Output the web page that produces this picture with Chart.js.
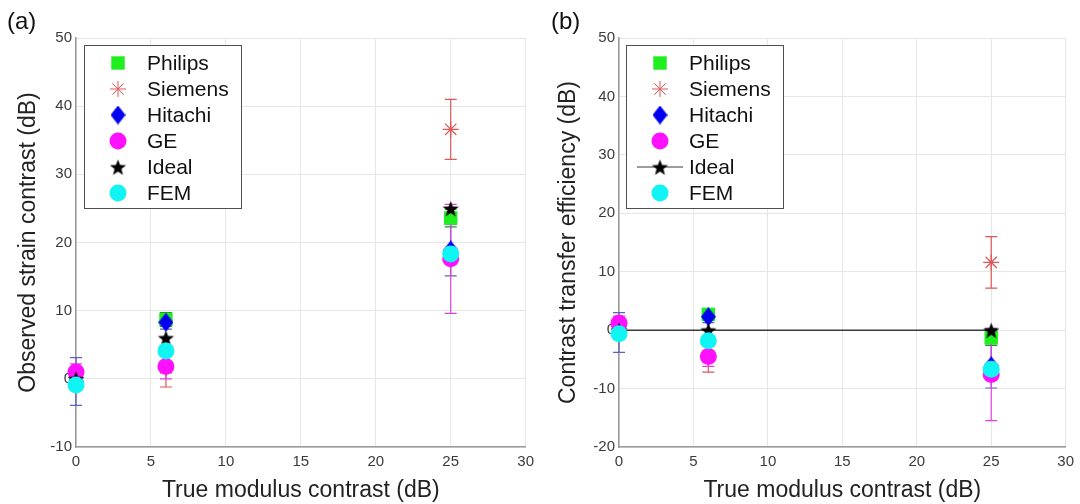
<!DOCTYPE html>
<html>
<head>
<meta charset="utf-8">
<script src="https://cdn.jsdelivr.net/npm/chart.js@4.4.1/dist/chart.umd.min.js"></script>
<style>
    body { margin: 0; background: #fff; width: 1080px; height: 504px; position: relative; overflow: hidden;
           font-family: "Liberation Sans", Arial, sans-serif; }
    .panel { position: absolute; top: 0; width: 540px; height: 504px; }
    .tag { position: absolute; top: 9px; font-size: 24px; line-height: 1; color: #111; }
</style>
</head>
<body>
<div class="panel" style="left:0"><canvas id="chartA" width="540" height="504"></canvas></div>
<div class="panel" style="left:540px"><canvas id="chartB" width="540" height="504"></canvas></div>
<div class="tag" style="left:7px">(a)</div>
<div class="tag" style="left:551px">(b)</div>
<script>
const trueContrast = [0, 6, 25];
const xTicks = [0, 5, 10, 15, 20, 25, 30];
const vendors = ['Philips', 'Siemens', 'Hitachi', 'GE', 'Ideal', 'FEM'];

// (a) observed strain contrast (dB)
const philipsObs = [0.4, 8.7, 23.6];
const siemensObs = [0.2, 1.6, 36.6];
const hitachiObs = [-0.4, 8.3, 18.9];
const geObs = [1.0, 1.8, 17.6];
const idealObs = [0, 6, 25];
const femObs = [-0.9, 4.1, 18.3];
const philipsObsErr = [0.8, 1.0, 1.3];
const siemensObsErr = [1.5, 2.8, 4.4];
const hitachiObsErr = [3.5, 1.0, 3.8];
const geObsErr = [1.2, 1.8, 8.0];
const yTicksA = [-10, 0, 10, 20, 30, 40, 50];

// (b) contrast transfer efficiency (dB)
const philipsCte = [0.4, 2.7, -1.3];
const siemensCte = [0.2, -4.4, 11.6];
const hitachiCte = [-0.4, 2.3, -6.1];
const geCte = [1.2, -4.5, -7.6];
const idealCte = [0, 0, 0];
const femCte = [-0.6, -1.8, -6.7];
const philipsCteErr = [0.8, 1.0, 1.3];
const siemensCteErr = [1.5, 2.8, 4.4];
const hitachiCteErr = [3.4, 1.0, 3.8];
const geCteErr = [1.2, 1.7, 7.9];
const yTicksB = [-20, -10, 0, 10, 20, 30, 40, 50];

const FONT = '"Liberation Sans", Arial, sans-serif';
const colors = { philips: '#1fee1f', siemens: '#e05656', hitachi: '#0000f0', ge: '#ff10ff', ideal: '#000000', fem: '#10f4f4' };

// marcadores propios: rombo alto y estrella de 5 puntas
function makeDiamond(color, w, h) {
    const c = document.createElement('canvas');
    c.width = w; c.height = h;
    const g = c.getContext('2d');
    g.fillStyle = color;
    g.beginPath();
    g.moveTo(w / 2, 0); g.lineTo(w, h / 2); g.lineTo(w / 2, h); g.lineTo(0, h / 2);
    g.closePath(); g.fill();
    return c;
}
function makePentagram(color, r) {
    const s = Math.ceil(r * 2 + 2);
    const c = document.createElement('canvas');
    c.width = s; c.height = s;
    const g = c.getContext('2d');
    g.fillStyle = color;
    g.beginPath();
    for (let i = 0; i < 10; i++) {
        const rad = i % 2 === 0 ? r : r * 0.42;
        const a = -Math.PI / 2 + i * Math.PI / 5;
        const px = s / 2 + rad * Math.cos(a), py = s / 2 + 1 + rad * Math.sin(a);
        i === 0 ? g.moveTo(px, py) : g.lineTo(px, py);
    }
    g.closePath(); g.fill();
    return c;
}
const diamondImg = makeDiamond(colors.hitachi, 15, 19);
const starImg = makePentagram(colors.ideal, 8.5);

const errorBars = {
    id: 'errorBars',
    beforeDatasetsDraw(chart, args, opts) {
        const { ctx, scales: { x, y } } = chart;
        ctx.save();
        opts.sets.forEach(s => {
            ctx.strokeStyle = s.color;
            ctx.lineWidth = 1.2;
            s.values.forEach((v, i) => {
                const px = x.getPixelForValue(trueContrast[i]);
                const top = y.getPixelForValue(v + s.err[i]);
                const bot = y.getPixelForValue(v - s.err[i]);
                ctx.beginPath();
                ctx.moveTo(px, top); ctx.lineTo(px, bot);
                ctx.moveTo(px - 6, top); ctx.lineTo(px + 6, top);
                ctx.moveTo(px - 6, bot); ctx.lineTo(px + 6, bot);
                ctx.stroke();
            });
        });
        ctx.restore();
    }
};

const boxLegend = {
    id: 'boxLegend',
    afterDraw(chart, args, opts) {
        const { ctx, chartArea } = chart;
        const left = chartArea.left + opts.dx, top = chartArea.top + 7, w = 157, h = 163;
        ctx.save();
        ctx.fillStyle = '#fff';
        ctx.fillRect(left, top, w, h);
        ctx.strokeStyle = '#505050';
        ctx.lineWidth = 1;
        ctx.strokeRect(left + 0.5, top + 0.5, w, h);
        chart.data.datasets.forEach((ds, i) => {
            const mx = left + 34, my = top + 18 + i * 26;
            if (ds.showLine) {
                ctx.strokeStyle = ds.borderColor;
                ctx.lineWidth = 1.2;
                ctx.beginPath(); ctx.moveTo(mx - 23, my); ctx.lineTo(mx + 23, my); ctx.stroke();
            }
            ctx.fillStyle = ds.pointBackgroundColor;
            ctx.strokeStyle = ds.pointBorderColor;
            Chart.helpers.drawPoint(ctx, { pointStyle: ds.pointStyle, radius: ds.pointRadius, rotation: 0, borderWidth: ds.pointBorderWidth }, mx, my);
            ctx.fillStyle = '#111';
            ctx.font = '21px ' + FONT;
            ctx.textBaseline = 'middle';
            ctx.fillText(ds.label, left + 63, my + 1);
        });
        ctx.restore();
    }
};

function pts(vals) {
    return vals.map((v, i) => ({ x: trueContrast[i], y: v }));
}

function buildDatasets(p, s, h, g, id, f, idealLine) {
    return [
        { label: vendors[0], data: pts(p), order: 6, pointStyle: 'rect', pointRadius: 9.5, pointBorderWidth: 0,
          pointBackgroundColor: colors.philips, pointBorderColor: colors.philips },
        { label: vendors[1], data: pts(s), order: 5, pointStyle: 'star', pointRadius: 8, pointBorderWidth: 1.2,
          pointBackgroundColor: colors.siemens, pointBorderColor: colors.siemens },
        { label: vendors[2], data: pts(h), order: 4, pointStyle: diamondImg, pointRadius: 9, pointBorderWidth: 0,
          pointBackgroundColor: colors.hitachi, pointBorderColor: colors.hitachi },
        { label: vendors[3], data: pts(g), order: 3, pointStyle: 'circle', pointRadius: 8.5, pointBorderWidth: 0,
          pointBackgroundColor: colors.ge, pointBorderColor: colors.ge },
        { label: vendors[4], data: pts(id), order: 2, pointStyle: starImg, pointRadius: 8, pointBorderWidth: 0,
          pointBackgroundColor: colors.ideal, pointBorderColor: colors.ideal,
          showLine: idealLine, borderColor: '#3a3a3a', borderWidth: 1.5 },
        { label: vendors[5], data: pts(f), order: 1, pointStyle: 'circle', pointRadius: 8.5, pointBorderWidth: 0,
          pointBackgroundColor: colors.fem, pointBorderColor: colors.fem }
    ].map(ds => Object.assign(ds, { clip: false }));
}

function buildOptions(yTicks, yTitle, yWidth, rightPad, errSets, legendDx) {
    return {
        responsive: false,
        animation: false,
        events: [],
        layout: { padding: { top: 38, right: rightPad, left: 0, bottom: 0 } },
        plugins: {
            legend: { display: false },
            tooltip: { enabled: false },
            errorBars: { sets: errSets },
            boxLegend: { dx: legendDx }
        },
        scales: {
            x: {
                type: 'linear', min: xTicks[0], max: xTicks[xTicks.length - 1],
                afterBuildTicks: s => { s.ticks = xTicks.map(v => ({ value: v })); },
                afterFit: s => { s.height = 57; },
                grid: { color: '#e6e6e6', drawTicks: false },
                border: { color: '#9a9a9a', width: 1.5 },
                ticks: { color: '#3a3a3a', padding: 6, font: { family: FONT, size: 15 } },
                title: { display: true, text: 'True modulus contrast (dB)', color: '#222',
                         font: { family: FONT, size: 23 }, padding: { top: 0, bottom: 0 } }
            },
            y: {
                type: 'linear', min: yTicks[0], max: yTicks[yTicks.length - 1],
                afterBuildTicks: s => { s.ticks = yTicks.map(v => ({ value: v })); },
                afterFit: s => { s.width = yWidth; },
                grid: { color: '#e6e6e6', drawTicks: false },
                border: { color: '#9a9a9a', width: 1.5 },
                ticks: { color: '#3a3a3a', padding: 4, font: { family: FONT, size: 15 } },
                title: { display: true, text: yTitle, color: '#222',
                         font: { family: FONT, size: 23 }, padding: { top: 15, bottom: 0 } }
            }
        }
    };
}

new Chart(document.getElementById('chartA'), {
    type: 'scatter',
    data: { datasets: buildDatasets(philipsObs, siemensObs, hitachiObs, geObs, idealObs, femObs, false) },
    options: buildOptions(yTicksA, 'Observed strain contrast (dB)', 76, 11, [
        { values: philipsObs, err: philipsObsErr, color: '#2a8a2a' },
        { values: siemensObs, err: siemensObsErr, color: colors.siemens },
        { values: hitachiObs, err: hitachiObsErr, color: '#6060c0' },
        { values: geObs, err: geObsErr, color: '#e040e0' }
    ], 8),
    plugins: [errorBars, boxLegend]
});

new Chart(document.getElementById('chartB'), {
    type: 'scatter',
    data: { datasets: buildDatasets(philipsCte, siemensCte, hitachiCte, geCte, idealCte, femCte, true) },
    options: buildOptions(yTicksB, 'Contrast transfer efficiency (dB)', 79, 9, [
        { values: philipsCte, err: philipsCteErr, color: '#2a8a2a' },
        { values: siemensCte, err: siemensCteErr, color: colors.siemens },
        { values: hitachiCte, err: hitachiCteErr, color: '#6060c0' },
        { values: geCte, err: geCteErr, color: '#e040e0' }
    ], 7),
    plugins: [errorBars, boxLegend]
});
</script>
</body>
</html>
